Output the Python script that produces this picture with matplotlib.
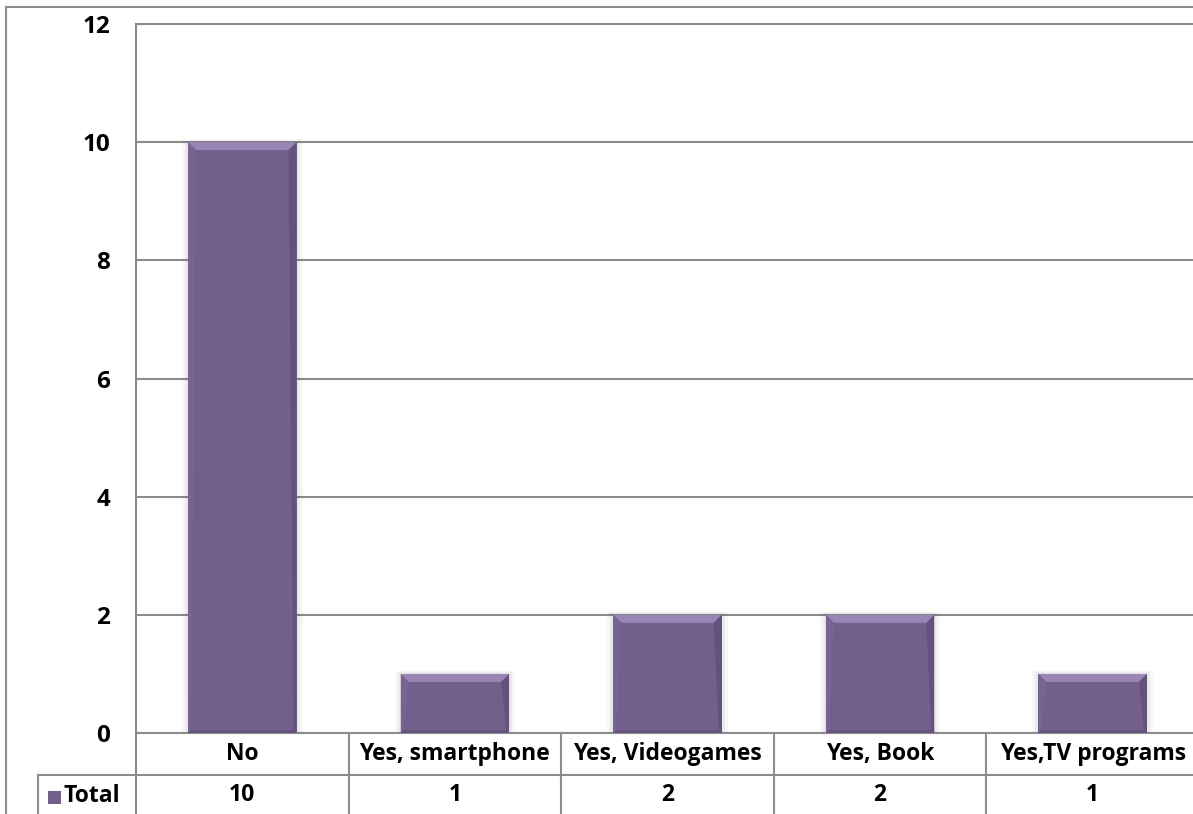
import numpy as np
import matplotlib
matplotlib.use('Agg')
import matplotlib.pyplot as plt
from matplotlib.patches import Polygon, Rectangle
from matplotlib.lines import Line2D

# 응답 항목과 빈도
categories = ['No', 'Yes, smartphone', 'Yes, Videogames', 'Yes, Book', 'Yes,TV programs']
totals = [10, 1, 2, 2, 1]
series_name = 'Total'
y_ticks = [0, 2, 4, 6, 8, 10, 12]

BAR_COLOR = '#735f8b'
BEVEL_TOP = '#9a86b6'
BEVEL_SIDE = '#5f4d75'
LINE_COLOR = '#8c8c8c'
FONT = ['Open Sans', 'DejaVu Sans']
FS = 16.5

W, H = 1193, 814
fig = plt.figure(figsize=(W / 100, H / 100), dpi=100)

# 플롯 영역 (픽셀 기준 위치)
left_px, right_px, top_px, bottom_px = 136, 1199, 24, 733
ax = fig.add_axes([left_px / W, 1 - bottom_px / H,
                   (right_px - left_px) / W, (bottom_px - top_px) / H])
ax.set_xlim(-0.5, len(categories) - 0.5)
ax.set_ylim(0, 12)
ax.set_yticks(y_ticks)
ax.set_yticklabels([str(t) for t in y_ticks], fontsize=17.5, fontweight='bold', family=FONT)
ax.tick_params(axis='y', length=0, pad=18.5)
ax.set_xticks([])
for s in ax.spines.values():
    s.set_color(LINE_COLOR)
    s.set_linewidth(1.5)
ax.yaxis.grid(True, color=LINE_COLOR, linewidth=1.5)
ax.set_axisbelow(True)

x = np.arange(len(categories))
bar_w = 0.51
bars = ax.bar(x, totals, width=bar_w, color=BAR_COLOR, zorder=3)

# 베벨 효과: 막대 위쪽은 밝게, 오른쪽은 어둡게
fig.canvas.draw()
inv = ax.transData.inverted()
bevel = 8  # px
for b in bars:
    x0, y0 = b.get_x(), 0
    x1, y1 = x0 + b.get_width(), b.get_height()
    (px0, py0) = ax.transData.transform((x0, y0))
    (px1, py1) = ax.transData.transform((x1, y1))
    # 그림자
    for k, a in [(6, 0.03), (3, 0.05)]:
        sx0, sy0 = inv.transform((px0 - k, py0))
        sx1, sy1 = inv.transform((px1 + k, py1 + k / 2))
        ax.add_patch(Rectangle((sx0, sy0), sx1 - sx0, sy1 - sy0, color='black',
                               alpha=a, lw=0, zorder=2))
    top = [(px0, py1), (px1, py1), (px1 - bevel, py1 - bevel), (px0 + bevel, py1 - bevel)]
    right = [(px1, py1), (px1, py0), (px1 - 3, py0 + 3), (px1 - bevel, py1 - bevel)]
    left = [(px0, py1), (px0 + bevel, py1 - bevel), (px0 + 3, py0 + 3), (px0, py0)]
    bottom = [(px0, py0), (px1, py0), (px1 - 3, py0 + 3), (px0 + 3, py0 + 3)]
    for pts, c, a in [(top, BEVEL_TOP, 1.0), (right, BEVEL_SIDE, 0.7),
                      (left, '#7b6795', 0.7), (bottom, BEVEL_SIDE, 0.6)]:
        ax.add_patch(Polygon(inv.transform(pts), closed=True, color=c, alpha=a,
                             lw=0, zorder=4))

# 데이터 테이블
row1 = -42 / (bottom_px - top_px)
row2 = -90 / (bottom_px - top_px)
xt = ax.get_xaxis_transform()
ax.add_line(Line2D([-0.5, 4.5], [row1, row1], transform=xt, color=LINE_COLOR, lw=1.5, clip_on=False))
for i in range(len(categories) + 1):
    xv = i - 0.5
    ax.add_line(Line2D([xv, xv], [0, row2], transform=xt, color=LINE_COLOR, lw=1.5, clip_on=False))
for i, (cat, val) in enumerate(zip(categories, totals)):
    ax.text(i, row1 / 2, cat, transform=xt, ha='center', va='center',
            fontsize=FS, fontweight='bold', family=FONT)
    ax.text(i, (row1 + row2) / 2 + 0.006, str(val), transform=xt, ha='center', va='center',
            fontsize=FS, fontweight='bold', family=FONT)

# 범례 셀 (Total)
fig.add_artist(Line2D([38 / W, left_px / W], [1 - 775 / H, 1 - 775 / H], color=LINE_COLOR, lw=1.5))
fig.add_artist(Line2D([38 / W, 38 / W], [1 - 775 / H, 0], color=LINE_COLOR, lw=1.5))
fig.add_artist(Rectangle((48 / W, 1 - 804 / H), 13 / W, 13 / H, color=BAR_COLOR, lw=0))
fig.text(64 / W, 1 - 796 / H, series_name, ha='left', va='center',
         fontsize=FS, fontweight='bold', family=FONT)

# 차트 바깥 테두리
fig.add_artist(Line2D([6 / W, 6 / W], [1 - 7 / H, 0], color=LINE_COLOR, lw=1.5))
fig.add_artist(Line2D([6 / W, 1], [1 - 7 / H, 1 - 7 / H], color=LINE_COLOR, lw=1.5))

fig.savefig('out.png', dpi=100)
